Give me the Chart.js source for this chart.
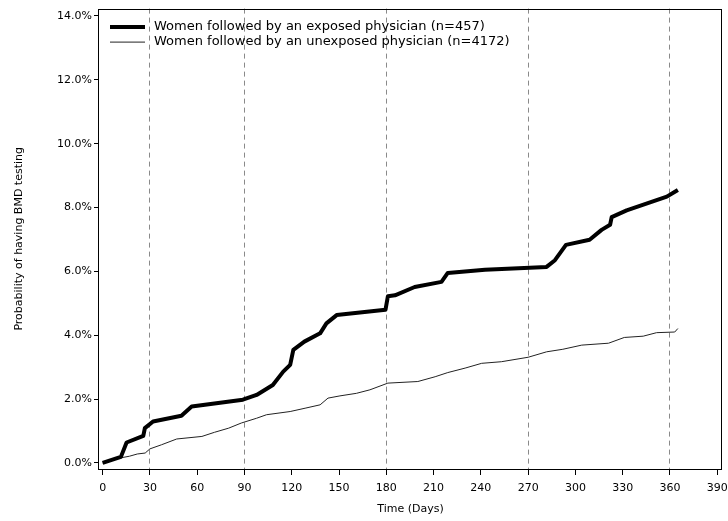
<!DOCTYPE html>
<html>
<head>
<meta charset="utf-8">
<script src="https://cdn.jsdelivr.net/npm/chart.js@4/dist/chart.umd.min.js"></script>
<style>
  html, body { margin: 0; padding: 0; background: #fff; }
  #wrap { width: 728px; height: 521px; }
</style>
</head>
<body>
<div id="wrap"><canvas id="c" width="728" height="521"></canvas></div>
<script>
// Exposed physician group (thick line), days and cumulative probability (%)
const exposedDays = [0, 11.6, 15.2, 25.8, 26.8, 32, 50, 56.5, 89, 97.7, 108, 114.6, 119, 121, 128, 138, 142, 148.5, 179.5, 181, 185.5, 198, 215, 219, 242.6, 271, 281.7, 287, 294, 309, 316.6, 322, 323, 332.5, 358, 365];
const exposedPct  = [0, 0.19, 0.64, 0.85, 1.09, 1.30, 1.48, 1.77, 1.98, 2.13, 2.44, 2.86, 3.07, 3.54, 3.80, 4.06, 4.37, 4.63, 4.80, 5.22, 5.25, 5.51, 5.67, 5.95, 6.05, 6.11, 6.14, 6.35, 6.83, 6.99, 7.30, 7.46, 7.70, 7.91, 8.34, 8.55];

// Unexposed physician group (thin line)
const unexposedDays = [0, 11.6, 17, 22, 27, 30, 37.4, 47, 63, 71, 80, 88, 97.7, 104, 119, 129, 138, 143, 150.6, 161, 169.6, 181, 200, 211, 219, 230, 240.5, 253, 270, 281.7, 292, 304, 321, 331, 343, 351.5, 363, 365];
const unexposedPct  = [0, 0.16, 0.21, 0.28, 0.31, 0.44, 0.57, 0.75, 0.83, 0.96, 1.09, 1.25, 1.40, 1.51, 1.61, 1.72, 1.82, 2.03, 2.10, 2.18, 2.29, 2.50, 2.55, 2.70, 2.83, 2.97, 3.12, 3.17, 3.31, 3.48, 3.56, 3.69, 3.75, 3.93, 3.97, 4.08, 4.10, 4.21];

const seriesLabels = ['Women followed by an exposed physician (n=457)', 'Women followed by an unexposed physician (n=4172)'];
const xTicks = [0, 30, 60, 90, 120, 150, 180, 210, 240, 270, 300, 330, 360, 390];
const yTicks = [0, 2, 4, 6, 8, 10, 12, 14];
const refDays = [30, 90, 180, 270, 360];

const FONT = 'DejaVu Sans';
Chart.defaults.font.family = FONT;
Chart.defaults.color = '#000';

const toPoints = (xs, ys) => xs.map((x, i) => ({ x, y: ys[i] }));

// frame around plot area + legend in the top-left corner
const framePlugin = {
  id: 'frame',
  afterDraw(chart) {
    const { ctx, chartArea: a } = chart;
    ctx.save();
    ctx.strokeStyle = '#000'; ctx.lineWidth = 1;
    const l = Math.round(a.left) - 0.5, t = Math.round(a.top) + 0.5;
    const r = Math.round(a.right) - 0.5, b = Math.round(a.bottom) + 0.5;
    ctx.strokeRect(l, t, r - l, b - t);
    // legend
    ctx.font = `13px "${FONT}"`; ctx.textBaseline = 'middle'; ctx.textAlign = 'left'; ctx.fillStyle = '#000';
    chart.data.datasets.forEach((d, i) => {
      const y = a.top + 18.5 + i * 15;
      ctx.beginPath();
      ctx.lineWidth = d.borderWidth; ctx.strokeStyle = d.borderColor;
      ctx.moveTo(a.left + 11, y); ctx.lineTo(a.left + 46, y); ctx.stroke();
      ctx.fillText(d.label, a.left + 55, y);
    });
    ctx.restore();
  }
};

new Chart(document.getElementById('c'), {
  type: 'line',
  data: {
    datasets: [
      { label: seriesLabels[0], data: toPoints(exposedDays, exposedPct), borderColor: '#000', borderWidth: 4, pointRadius: 0, tension: 0, borderJoinStyle: 'round' },
      { label: seriesLabels[1], data: toPoints(unexposedDays, unexposedPct), borderColor: '#222', borderWidth: 1, pointRadius: 0, tension: 0 },
    ],
  },
  options: {
    responsive: false, animation: false,
    layout: { padding: { top: 7, right: 6, left: 0, bottom: 0 } },
    plugins: { legend: { display: false }, tooltip: { enabled: false } },
    scales: {
      x: {
        type: 'linear', min: -2.3, max: 393,
        afterBuildTicks: s => { s.ticks = xTicks.map(v => ({ value: v })); },
        afterFit: s => { s.height = 52; s.paddingLeft = 0; s.paddingRight = 0; },
        ticks: { font: { size: 11 }, padding: 7, maxRotation: 0, autoSkip: false, callback: v => String(v) },
        grid: {
          drawOnChartArea: true, tickLength: 6, tickColor: '#000',
          color: c => (c.tick && refDays.includes(c.tick.value)) ? '#8a8a8a' : 'rgba(0,0,0,0)',
        },
        border: { display: false, dash: [5, 4] },
        title: { display: true, text: 'Time (Days)', font: { size: 11 }, padding: { top: 0, bottom: 5 } },
      },
      y: {
        min: -0.19, max: 14.23,
        afterBuildTicks: s => { s.ticks = yTicks.map(v => ({ value: v })); },
        afterFit: s => { s.width = 99; },
        ticks: { font: { size: 11 }, padding: 2, callback: v => v.toFixed(1) + '%' },
        grid: { drawOnChartArea: false, tickLength: 5, tickColor: '#000' },
        border: { display: false },
        title: { display: true, text: 'Probability of having BMD testing', font: { size: 11 }, padding: { top: 13, bottom: 0 } },
      },
    },
  },
  plugins: [framePlugin],
});
</script>
</body>
</html>
